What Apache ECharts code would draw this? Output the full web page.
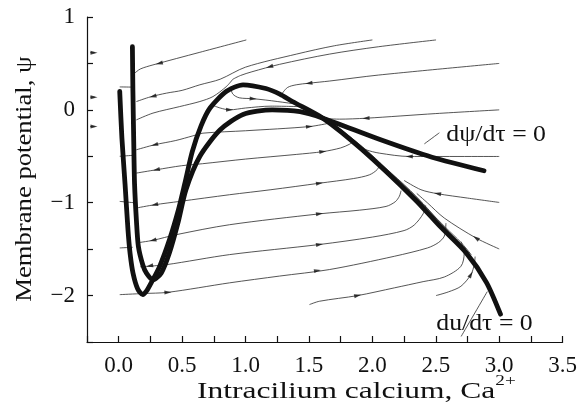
<!DOCTYPE html>
<html>
<head>
<meta charset="utf-8">
<script src="https://cdn.jsdelivr.net/npm/echarts@6/dist/echarts.min.js"></script>
<style>
  html, body { margin: 0; padding: 0; background: #fff; }
  #chart { width: 580px; height: 416px; }
</style>
</head>
<body>
<div id="chart"></div>
<script>
// tick labels
const xTickValues = [0, 0.5, 1, 1.5, 2, 2.5, 3, 3.5];
const xTickLabels = ['0.0', '0.5', '1.0', '1.5', '2.0', '2.5', '3.0', '3.5'];
const yTickValues = [1, 0, -1, -2];
const yTickLabels = ['1', '0', '\u22121', '\u22122'];

// nullclines (thick)
const duNull = [[0.008, 0.20], [0.025, -0.30], [0.05, -0.80], [0.073, -1.29], [0.09, -1.55], [0.113, -1.76],
  [0.15, -1.93], [0.19, -1.99], [0.22, -1.95], [0.257, -1.86], [0.323, -1.685], [0.40, -1.40], [0.47, -1.08],
  [0.52, -0.80], [0.58, -0.45], [0.65, -0.17], [0.72, 0.02], [0.85, 0.20], [0.98, 0.27], [1.16, 0.23],
  [1.27, 0.17], [1.37, 0.09], [1.61, -0.09], [1.92, -0.43], [2.34, -0.97], [2.53, -1.25], [2.74, -1.54],
  [2.90, -1.86], [3.01, -2.2]];
const dpsiNull = [[0.108, 0.68], [0.112, 0.2], [0.118, -0.3], [0.125, -0.8], [0.14, -1.2], [0.155, -1.47],
  [0.19, -1.67], [0.22, -1.76], [0.27, -1.83], [0.336, -1.756], [0.40, -1.54], [0.467, -1.218], [0.53, -0.86],
  [0.64, -0.50], [0.80, -0.215], [0.98, -0.05], [1.21, 0.0], [1.43, -0.02], [1.61, -0.09], [2.06, -0.32],
  [2.47, -0.51], [2.88, -0.656]];

// trajectories (thin)
const trajU1 = [[0.126, 0.395], [0.17, 0.44], [0.27, 0.484], [0.64, 0.62], [1.006, 0.753]];
const trajB = [[0.139, 0.089], [0.25, 0.14], [0.376, 0.18], [0.50, 0.21], [0.64, 0.27], [0.80, 0.33],
  [1.0, 0.46], [1.4, 0.60], [1.7, 0.69], [2.0, 0.753]];
const trajU3 = [[0.139, -0.108], [0.27, -0.035], [0.48, 0.035], [0.64, 0.09], [0.743, 0.143], [0.848, 0.25], [0.90, 0.33]];
const trajC = [[0.90, 0.33], [0.96, 0.37], [1.05, 0.41], [1.268, 0.49], [1.66, 0.60], [2.05, 0.68], [2.502, 0.753]];
const trajS1 = [[0.88, 0.25], [0.90, 0.17], [0.95, 0.13], [1.06, 0.12], [1.25, 0.09], [1.43, 0.05], [1.50, 0.0]];
const trajS2 = [[0.74, 0.05], [0.80, 0.02], [0.874, 0.0], [1.0, 0.02], [1.2, 0.04], [1.43, 0.035]];
const trajD = [[1.28, 0.16], [1.33, 0.24], [1.40, 0.27], [1.50, 0.287], [1.66, 0.31], [2.05, 0.375], [3.0, 0.50]];
const trajE = [[1.57, -0.09], [1.74, -0.10], [1.95, -0.09], [2.5, -0.04], [3.0, 0.0]];
const trajL1 = [[0.139, -0.43], [0.283, -0.376], [0.45, -0.33], [0.585, -0.28], [0.664, -0.251], [1.0, -0.225],
  [1.504, -0.18], [1.661, -0.143]];
const trajL2 = [[0.139, -0.681], [0.297, -0.645], [0.494, -0.602], [0.661, -0.58], [1.0, -0.53], [1.4, -0.48],
  [1.609, -0.45], [1.75, -0.41], [1.82, -0.37], [1.85, -0.34]];
const trajL3 = [[0.139, -1.057], [0.283, -1.022], [0.48, -0.986], [0.874, -0.914], [1.2, -0.86], [1.583, -0.79],
  [1.85, -0.74], [1.976, -0.70], [2.04, -0.64], [2.06, -0.57]];
const trajL4 = [[0.139, -1.433], [0.27, -1.405], [0.454, -1.344], [0.874, -1.237], [1.583, -1.12], [1.9, -1.08],
  [2.108, -1.04], [2.18, -0.99], [2.213, -0.93], [2.226, -0.87]];
const trajL5 = [[0.17, -1.69], [0.376, -1.667], [0.874, -1.559], [1.583, -1.45], [2.0, -1.37], [2.25, -1.30],
  [2.33, -1.24], [2.40, -1.12], [2.42, -1.03]];
const trajL6 = [[0.008, -1.99], [0.191, -1.978], [0.388, -1.965], [0.874, -1.863], [1.268, -1.79], [1.661, -1.72],
  [2.173, -1.577], [2.435, -1.487], [2.52, -1.43], [2.567, -1.36], [2.58, -1.22]];
const trajL7 = [[1.504, -2.097], [1.583, -2.061], [1.884, -2.0], [2.173, -1.917], [2.40, -1.85], [2.567, -1.80],
  [2.698, -1.685], [2.724, -1.541], [2.70, -1.42]];
const trajL8 = [[2.502, -2.0], [2.60, -1.96], [2.698, -1.90], [2.777, -1.774], [2.803, -1.667], [2.81, -1.58]];
const trajF = [[3.0, -0.502], [2.291, -0.502], [2.055, -0.466], [1.95, -0.43], [1.90, -0.39]];
const trajG = [[3.0, -0.997], [2.75, -0.95], [2.514, -0.903], [2.383, -0.86], [2.25, -0.76]];
const trajH = [[3.0, -1.498], [2.817, -1.38], [2.567, -1.165], [2.433, -1.0], [2.35, -0.90]];
const bundle1 = [[1.75, -0.21], [1.95, -0.43], [2.1, -0.62], [2.3, -0.87], [2.45, -1.09], [2.58, -1.27], [2.70, -1.43], [2.78, -1.56]];
const bundle2 = [[1.85, -0.32], [2.0, -0.50], [2.2, -0.75], [2.40, -1.01], [2.55, -1.24], [2.66, -1.39], [2.74, -1.50]];
const stubs = [
  [[0.008, 0.247], [0.11, 0.245]],
  [[0.008, -0.50], [0.11, -0.49]],
  [[0.008, -0.986], [0.12, -1.0]],
  [[0.008, -1.487], [0.11, -1.48]],
  [[-0.225, 0.616], [-0.19, 0.616]],
  [[-0.225, 0.137], [-0.19, 0.137]],
  [[-0.225, -0.18], [-0.19, -0.18]]
];

// arrow heads: x, y, direction in degrees (0 = right, 180 = left)
const arrows = [
  [0.32, 0.50, 195], [0.27, 0.145, 194], [1.19, 0.465, 196], [1.50, 0.287, 188],
  [1.06, 0.12, -5], [0.874, 0.0, 0], [1.95, -0.09, 183],
  [0.283, -0.376, 195], [1.504, -0.18, 5],
  [0.297, -0.645, 193], [1.609, -0.45, 7],
  [0.283, -1.022, 193], [1.583, -0.79, 8],
  [0.27, -1.405, 193], [1.583, -1.12, 8],
  [0.244, -1.68, 190], [1.583, -1.45, 9],
  [0.388, -1.965, 3], [1.567, -1.73, 10],
  [1.884, -2.0, 12], [2.777, -1.774, 60],
  [2.291, -0.502, 180], [2.514, -0.903, 170], [2.817, -1.38, 145],
  [-0.195, 0.616, 0], [-0.195, 0.137, 0], [-0.195, -0.18, 0]
];

// annotation leaders and label anchors (data units)
const psiLeader = [[2.41, -0.366], [2.528, -0.247]];
const duLeader = [[2.70, -2.44], [2.906, -1.957]];
const psiLabelAt = [2.583, -0.27];
const duLabelAt = [2.504, -2.31];

const serif = '"Liberation Serif", "Times New Roman", serif';
const ink = '#111';

const chart = echarts.init(document.getElementById('chart'));

function thin(data) {
  return {
    type: 'line', data: data, showSymbol: false, smooth: 0.3, silent: true, z: 2,
    lineStyle: { color: '#2a2a2a', width: 0.8 }
  };
}
function thick(data) {
  return {
    type: 'line', data: data, showSymbol: false, smooth: 0.25, silent: true, z: 3,
    lineStyle: { color: ink, width: 4.8, cap: 'round', join: 'round' }
  };
}

function pickLabel(values, labels) {
  return function (v) {
    const i = values.findIndex(t => Math.abs(t - v) < 1e-6);
    return i >= 0 ? labels[i] : '';
  };
}

const series = [thick(duNull), thick(dpsiNull)];
[trajU1, trajB, trajU3, trajC, trajS1, trajS2, trajD, trajE, trajL1, trajL2, trajL3, trajL4, trajL5,
  trajL6, trajL7, trajL8, trajF, trajG, trajH, bundle1, bundle2, psiLeader, duLeader]
  .forEach(d => series.push(thin(d)));
stubs.forEach(d => series.push(thin(d)));
series.push({
  type: 'scatter', silent: true, z: 5,
  symbol: 'triangle', symbolSize: [4, 7],
  itemStyle: { color: ink },
  data: arrows.map(a => ({ value: [a[0], a[1]], symbolRotate: a[2] - 90 }))
});

const option = {
  animation: false,
  backgroundColor: '#fff',
  grid: { left: 87, right: 16, top: 17, bottom: 74 },
  xAxis: {
    type: 'value', min: -0.25, max: 3.5, interval: 0.25,
    axisLine: { onZero: false, lineStyle: { color: ink, width: 1.2 } },
    axisTick: { inside: true, length: 6, lineStyle: { color: ink, width: 1.2 } },
    axisLabel: {
      formatter: pickLabel(xTickValues, xTickLabels),
      fontFamily: serif, fontSize: 23, color: ink, margin: 12
    },
    splitLine: { show: false }
  },
  yAxis: {
    type: 'value', min: -2.5, max: 1, interval: 0.5,
    axisLine: { show: true, onZero: false, lineStyle: { color: ink, width: 1.2 } },
    axisTick: { show: true, inside: true, length: 6, lineStyle: { color: ink, width: 1.2 } },
    axisLabel: {
      formatter: pickLabel(yTickValues, yTickLabels),
      fontFamily: serif, fontSize: 23, color: ink, margin: 12
    },
    splitLine: { show: false }
  },
  series: series
};
chart.setOption(option);

const psiPx = chart.convertToPixel({ seriesIndex: 0 }, psiLabelAt);
const duPx = chart.convertToPixel({ seriesIndex: 0 }, duLabelAt);
const font = '23px ' + serif;

chart.setOption({
  graphic: [
    {
      type: 'text', x: 197, y: 389, scaleX: 1.37, silent: true,
      style: {
        text: '{a|Intracilium calcium, Ca}{s|2+}',
        fill: ink, align: 'left', verticalAlign: 'middle',
        rich: {
          a: { font: font, fill: ink, verticalAlign: 'bottom', padding: [6, 0, 0, 0] },
          s: { font: '14px ' + serif, fill: ink, verticalAlign: 'top' }
        }
      }
    },
    {
      type: 'text', x: 25, y: 179, rotation: Math.PI / 2, scaleX: 1.16, silent: true,
      style: { text: 'Membrane potential, \u03c8', font: font, fill: ink, align: 'center', verticalAlign: 'middle' }
    },
    {
      type: 'text', x: psiPx[0], y: psiPx[1], scaleX: 1.12, silent: true,
      style: { text: 'd\u03c8/d\u03c4 = 0', font: font, fill: ink, align: 'left', verticalAlign: 'middle' }
    },
    {
      type: 'text', x: duPx[0], y: duPx[1], scaleX: 1.12, silent: true,
      style: { text: 'du/d\u03c4 = 0', font: font, fill: ink, align: 'left', verticalAlign: 'middle' }
    }
  ]
});
</script>
</body>
</html>
